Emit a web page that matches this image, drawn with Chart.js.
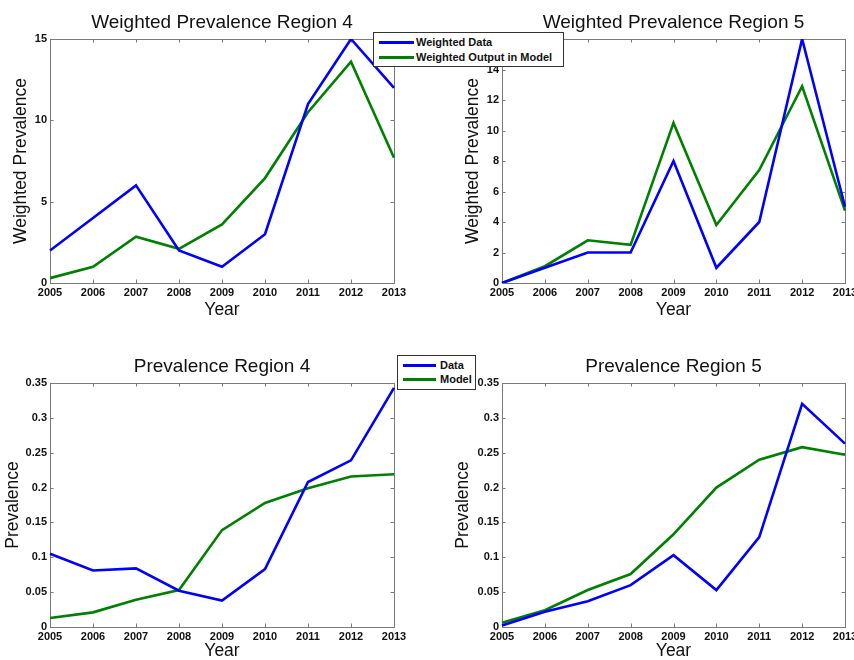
<!DOCTYPE html>
<html>
<head>
<meta charset="utf-8">
<script src="https://cdn.jsdelivr.net/npm/chart.js@4.4.1/dist/chart.umd.min.js"></script>
<style>
  html, body { margin: 0; padding: 0; background: #ffffff; }
  body { width: 854px; height: 660px; position: relative; overflow: hidden; font-family: "Liberation Sans", Arial, sans-serif; }
  .panel { position: absolute; width: 427px; height: 330px; }
  .panel canvas { display: block; }
  .legend { position: absolute; background: #ffffff; border: 1px solid #333333; box-sizing: border-box; z-index: 5; }
  .legend .swatch { position: absolute; height: 3px; }
  .legend .txt { position: absolute; font: bold 11px "Liberation Sans", Arial, sans-serif; color: #111; white-space: nowrap; line-height: 14px; }
</style>
</head>
<body>
<div class="panel" style="left:0;top:0"><canvas id="c1" width="427" height="330"></canvas></div>
<div class="panel" style="left:427px;top:0"><canvas id="c2" width="427" height="330"></canvas></div>
<div class="panel" style="left:0;top:330px"><canvas id="c3" width="427" height="330"></canvas></div>
<div class="panel" style="left:427px;top:330px"><canvas id="c4" width="427" height="330"></canvas></div>

<div class="legend" id="legTop" style="left:373px;top:32px;width:191px;height:35px;"></div>
<div class="legend" id="legBottom" style="left:397px;top:355px;width:79px;height:35px;"></div>

<script>
// ---------- data ----------
const years = ['2005', '2006', '2007', '2008', '2009', '2010', '2011', '2012', '2013'];

const weightedData4  = [2, 4, 6, 2, 1, 3, 11, 15, 12];
const weightedModel4 = [0.3, 1.0, 2.85, 2.1, 3.6, 6.45, 10.5, 13.6, 7.7];

const weightedData5  = [0, 1, 2, 2, 8, 1, 4, 16, 5];
const weightedModel5 = [0, 1.1, 2.8, 2.5, 10.5, 3.8, 7.4, 12.9, 4.75];

const prevData4  = [0.105, 0.081, 0.084, 0.052, 0.038, 0.083, 0.208, 0.239, 0.343];
const prevModel4 = [0.013, 0.021, 0.039, 0.053, 0.139, 0.178, 0.199, 0.216, 0.219];

const prevData5  = [0.002, 0.022, 0.037, 0.060, 0.103, 0.053, 0.129, 0.320, 0.263];
const prevModel5 = [0.006, 0.024, 0.053, 0.076, 0.133, 0.200, 0.240, 0.258, 0.247];

const legendTopLabels = ['Weighted Data', 'Weighted Output in Model'];
const legendBottomLabels = ['Data', 'Model'];

// ---------- styles ----------
const BLUE = '#0000ff';
const GREEN = '#008000';
const FRAME = '#7a7a7a';
const TICK_FONT = { family: '"Liberation Sans Narrow", "Arial Narrow", "Liberation Sans", Arial, sans-serif', size: 11, weight: 'bold' };

const frameTicks = {
  id: 'frameTicks',
  beforeDatasetsDraw(chart) {
    const { ctx, chartArea: a, scales } = chart;
    ctx.save();
    ctx.strokeStyle = FRAME;
    ctx.lineWidth = 1;
    const L = 3.5;
    ctx.beginPath();
    const xs = scales.x, ys = scales.y;
    xs.ticks.forEach((t, i) => {
      const px = Math.round(xs.getPixelForTick(i)) + 0.5;
      ctx.moveTo(px, a.bottom); ctx.lineTo(px, a.bottom - L);
      ctx.moveTo(px, a.top); ctx.lineTo(px, a.top + L);
    });
    ys.ticks.forEach((t, i) => {
      const py = Math.round(ys.getPixelForTick(i)) + 0.5;
      ctx.moveTo(a.left, py); ctx.lineTo(a.left + L, py);
      ctx.moveTo(a.right, py); ctx.lineTo(a.right - L, py);
    });
    ctx.stroke();
    ctx.strokeRect(Math.round(a.left) + 0.5, Math.round(a.top) + 0.5, Math.round(a.right - a.left), Math.round(a.bottom - a.top));
    ctx.restore();
  }
};

function fmt(v) { return String(+(+v).toFixed(2)); }

function makeChart(id, cfg) {
  const ctx = document.getElementById(id);
  return new Chart(ctx, {
    type: 'line',
    data: {
      labels: years,
      datasets: [
        { label: cfg.names[0], data: cfg.data, borderColor: BLUE, backgroundColor: BLUE, borderWidth: 2.6, pointRadius: 0, tension: 0, fill: false },
        { label: cfg.names[1], data: cfg.model, borderColor: GREEN, backgroundColor: GREEN, borderWidth: 2.6, pointRadius: 0, tension: 0, fill: false }
      ]
    },
    options: {
      responsive: false,
      animation: false,
      devicePixelRatio: 1,
      layout: { padding: { left: 0, right: cfg.padRight, top: 0, bottom: 0 } },
      plugins: {
        legend: { display: false },
        tooltip: { enabled: false },
        title: {
          display: true,
          text: cfg.title,
          fullSize: false,
          color: '#111111',
          font: { family: '"Liberation Sans", Arial, sans-serif', size: 19, weight: 'normal', lineHeight: 1.2 },
          padding: { top: cfg.titlePadTop, bottom: cfg.titlePadBottom }
        }
      },
      scales: {
        x: {
          type: 'category',
          offset: false,
          grid: { display: false, drawTicks: false },
          border: { display: false },
          ticks: { color: '#111111', font: TICK_FONT, padding: 3, autoSkip: false, maxRotation: 0, minRotation: 0 },
          title: { display: true, text: 'Year', color: '#111111', font: { family: '"Liberation Sans", Arial, sans-serif', size: 17.5, lineHeight: 1 }, padding: { top: 0, bottom: cfg.xTitlePad } },
          afterFit(s) { s.height = cfg.xHeight; s.paddingLeft = 0; s.paddingRight = 0; }
        },
        y: {
          type: 'linear',
          min: cfg.yMin, max: cfg.yMax,
          grid: { display: false, drawTicks: false },
          border: { display: false },
          ticks: { stepSize: cfg.yStep, color: '#111111', font: TICK_FONT, padding: 3, callback: fmt },
          title: { display: true, text: cfg.yTitle, color: '#111111', font: { family: '"Liberation Sans", Arial, sans-serif', size: 17.5, lineHeight: 1 }, padding: { top: cfg.yTitlePad, bottom: 0 } },
          afterFit(s) { s.width = cfg.yWidth; s.paddingTop = 0; s.paddingBottom = 0; }
        }
      }
    },
    plugins: [frameTicks]
  });
}

makeChart('c1', {
  names: legendTopLabels, data: weightedData4, model: weightedModel4,
  title: 'Weighted Prevalence Region 4', yTitle: 'Weighted Prevalence',
  yMin: 0, yMax: 15, yStep: 5,
  padRight: 33, titlePadTop: 11.5, titlePadBottom: 4.7, xHeight: 47, xTitlePad: 11, yWidth: 50, yTitlePad: 12
});
makeChart('c2', {
  names: legendTopLabels, data: weightedData5, model: weightedModel5,
  title: 'Weighted Prevalence Region 5', yTitle: 'Weighted Prevalence',
  yMin: 0, yMax: 16, yStep: 2,
  padRight: 9, titlePadTop: 11.5, titlePadBottom: 4.7, xHeight: 47, xTitlePad: 11, yWidth: 75, yTitlePad: 37
});
makeChart('c3', {
  names: legendBottomLabels, data: prevData4, model: prevModel4,
  title: 'Prevalence Region 4', yTitle: 'Prevalence',
  yMin: 0, yMax: 0.35, yStep: 0.05,
  padRight: 33, titlePadTop: 25.3, titlePadBottom: 4.9, xHeight: 33, xTitlePad: 0, yWidth: 50, yTitlePad: 4
});
makeChart('c4', {
  names: legendBottomLabels, data: prevData5, model: prevModel5,
  title: 'Prevalence Region 5', yTitle: 'Prevalence',
  yMin: 0, yMax: 0.35, yStep: 0.05,
  padRight: 9, titlePadTop: 25.3, titlePadBottom: 4.9, xHeight: 33, xTitlePad: 0, yWidth: 75, yTitlePad: 27
});

// ---------- legends (HTML overlays) ----------
function buildLegend(el, labels, rows, lineX, lineW, textX) {
  const colors = [BLUE, GREEN];
  labels.forEach((lab, i) => {
    const sw = document.createElement('div');
    sw.className = 'swatch';
    sw.style.left = lineX + 'px';
    sw.style.width = lineW + 'px';
    sw.style.top = (rows[i] - 1.5) + 'px';
    sw.style.background = colors[i];
    el.appendChild(sw);
    const tx = document.createElement('div');
    tx.className = 'txt';
    tx.style.left = textX + 'px';
    tx.style.top = (rows[i] - 7) + 'px';
    tx.textContent = lab;
    el.appendChild(tx);
  });
}
buildLegend(document.getElementById('legTop'), legendTopLabels, [9, 24], 5, 35, 42);
buildLegend(document.getElementById('legBottom'), legendBottomLabels, [9, 23], 5, 33, 42);
</script>
</body>
</html>
